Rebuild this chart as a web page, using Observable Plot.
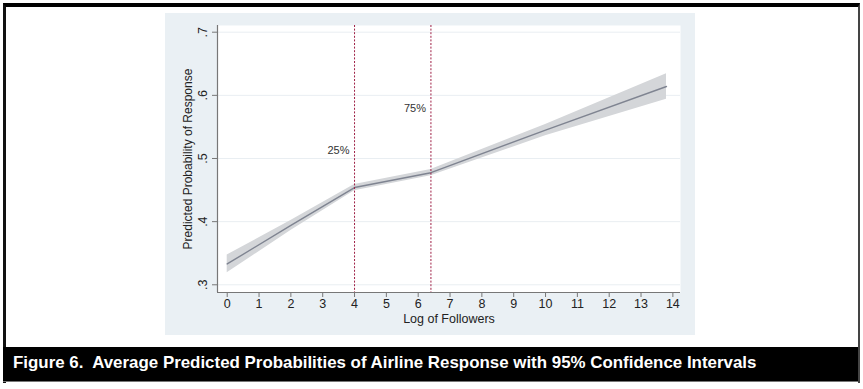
<!DOCTYPE html>
<html>
<head>
<meta charset="utf-8">
<script src="https://cdn.jsdelivr.net/npm/d3@7"></script>
<script src="https://cdn.jsdelivr.net/npm/@observablehq/plot@0.6"></script>
<style>
  html, body { margin: 0; padding: 0; background: #fff; }
  body { width: 863px; height: 389px; position: relative; overflow: hidden; font-family: "Liberation Sans", Arial, sans-serif; }
  #frame { position: absolute; left: 3px; top: 3px; width: 852px; height: 376px; border-top: 4px solid #000; border-left: 3px solid #111; border-right: 2px solid #444; }
  #panel { position: absolute; left: 165px; top: 13px; width: 530px; height: 322px; background: #eaf0f4; }
  #chart { position: absolute; left: 0; top: 0; }
  #chart svg { background: transparent !important; }
  #caption { position: absolute; left: 3px; top: 347px; width: 855px; height: 34px; background: #000; border-bottom: 1px solid #777; }
  #caption span { position: absolute; left: 10px; top: 8px; color: #fff; font-weight: bold; font-size: 16.9px; line-height: 1; white-space: nowrap; }
</style>
</head>
<body>
<div id="frame"></div>
<div id="panel"></div>
<div id="chart"></div>
<div id="caption"><span>Figure 6.&nbsp; Average Predicted Probabilities of Airline Response with 95% Confidence Intervals</span></div>
<script>
// Data
const followers = [0, 2, 4, 6.4, 10, 13.8];
const prob      = [0.333, 0.394, 0.454, 0.4775, 0.545, 0.614];
const lower     = [0.319, 0.386, 0.449, 0.4725, 0.536, 0.594];
const upper     = [0.347, 0.402, 0.459, 0.4825, 0.554, 0.634];

const quartileX      = [4, 6.4];
const quartileLabels = ["25%", "75%"];
const quartileLabelY = [0.5125, 0.579];

const xTicks = [0, 1, 2, 3, 4, 5, 6, 7, 8, 9, 10, 11, 12, 13, 14];
const yTicks = [0.3, 0.4, 0.5, 0.6, 0.7];

const xTitle = "Log of Followers";
const yTitle = "Predicted Probability of Response";

const rows = followers.map((x, i) => ({x, p: prob[i], lo: lower[i], hi: upper[i]}));
const qrows = quartileX.map((x, i) => ({x, label: quartileLabels[i], y: quartileLabelY[i]}));

const xDomain = [-0.305, 14.24];
const yDomain = [0.2878, 0.7106];

const chart = Plot.plot({
  width: 863,
  height: 347,
  marginLeft: 217,
  marginRight: 183,
  marginTop: 25,
  marginBottom: 55,
  style: {fontFamily: "Liberation Sans, Arial, sans-serif", background: "transparent", color: "#333"},
  x: {domain: xDomain},
  y: {domain: yDomain},
  marks: [
    Plot.frame({fill: "white", stroke: "none"}),
    Plot.ruleY(yTicks, {stroke: "#e9eef2", strokeWidth: 1}),
    Plot.areaY(rows, {x: "x", y1: "lo", y2: "hi", fill: "#d4d6d9"}),
    Plot.line(rows, {x: "x", y: "p", stroke: "#7f8491", strokeWidth: 1.4}),
    Plot.ruleX(qrows, {x: "x", stroke: "#9e1f45", strokeWidth: 1, strokeDasharray: "2,1.6"}),
    Plot.text(qrows, {x: "x", y: "y", text: "label", textAnchor: "end", dx: -5, fontSize: 11, fill: "#333"}),
    Plot.ruleX([xDomain[0]], {stroke: "#777", strokeWidth: 1.2}),
    Plot.ruleY([yDomain[0]], {stroke: "#777", strokeWidth: 1.2}),
    Plot.axisX({ticks: xTicks, tickSize: 5, tickPadding: 2, fontSize: 12.5, stroke: "#777", label: null, fill: "#222"}),
    Plot.axisY({ticks: yTicks, tickSize: 5, tickPadding: 6, fontSize: 12.5, tickRotate: -90, stroke: "#777", label: null, fill: "#222",
      tickFormat: d => d3.format(".1f")(d).replace(/^0/, "")}),
    Plot.text([xTitle], {frameAnchor: "bottom", dy: 26, lineAnchor: "middle", fontSize: 12.5, fill: "#222"}),
    Plot.text([yTitle], {frameAnchor: "left", dx: -29, rotate: -90, textAnchor: "middle", fontSize: 12, fill: "#222"})
  ]
});
document.getElementById("chart").appendChild(chart);
</script>
</body>
</html>
